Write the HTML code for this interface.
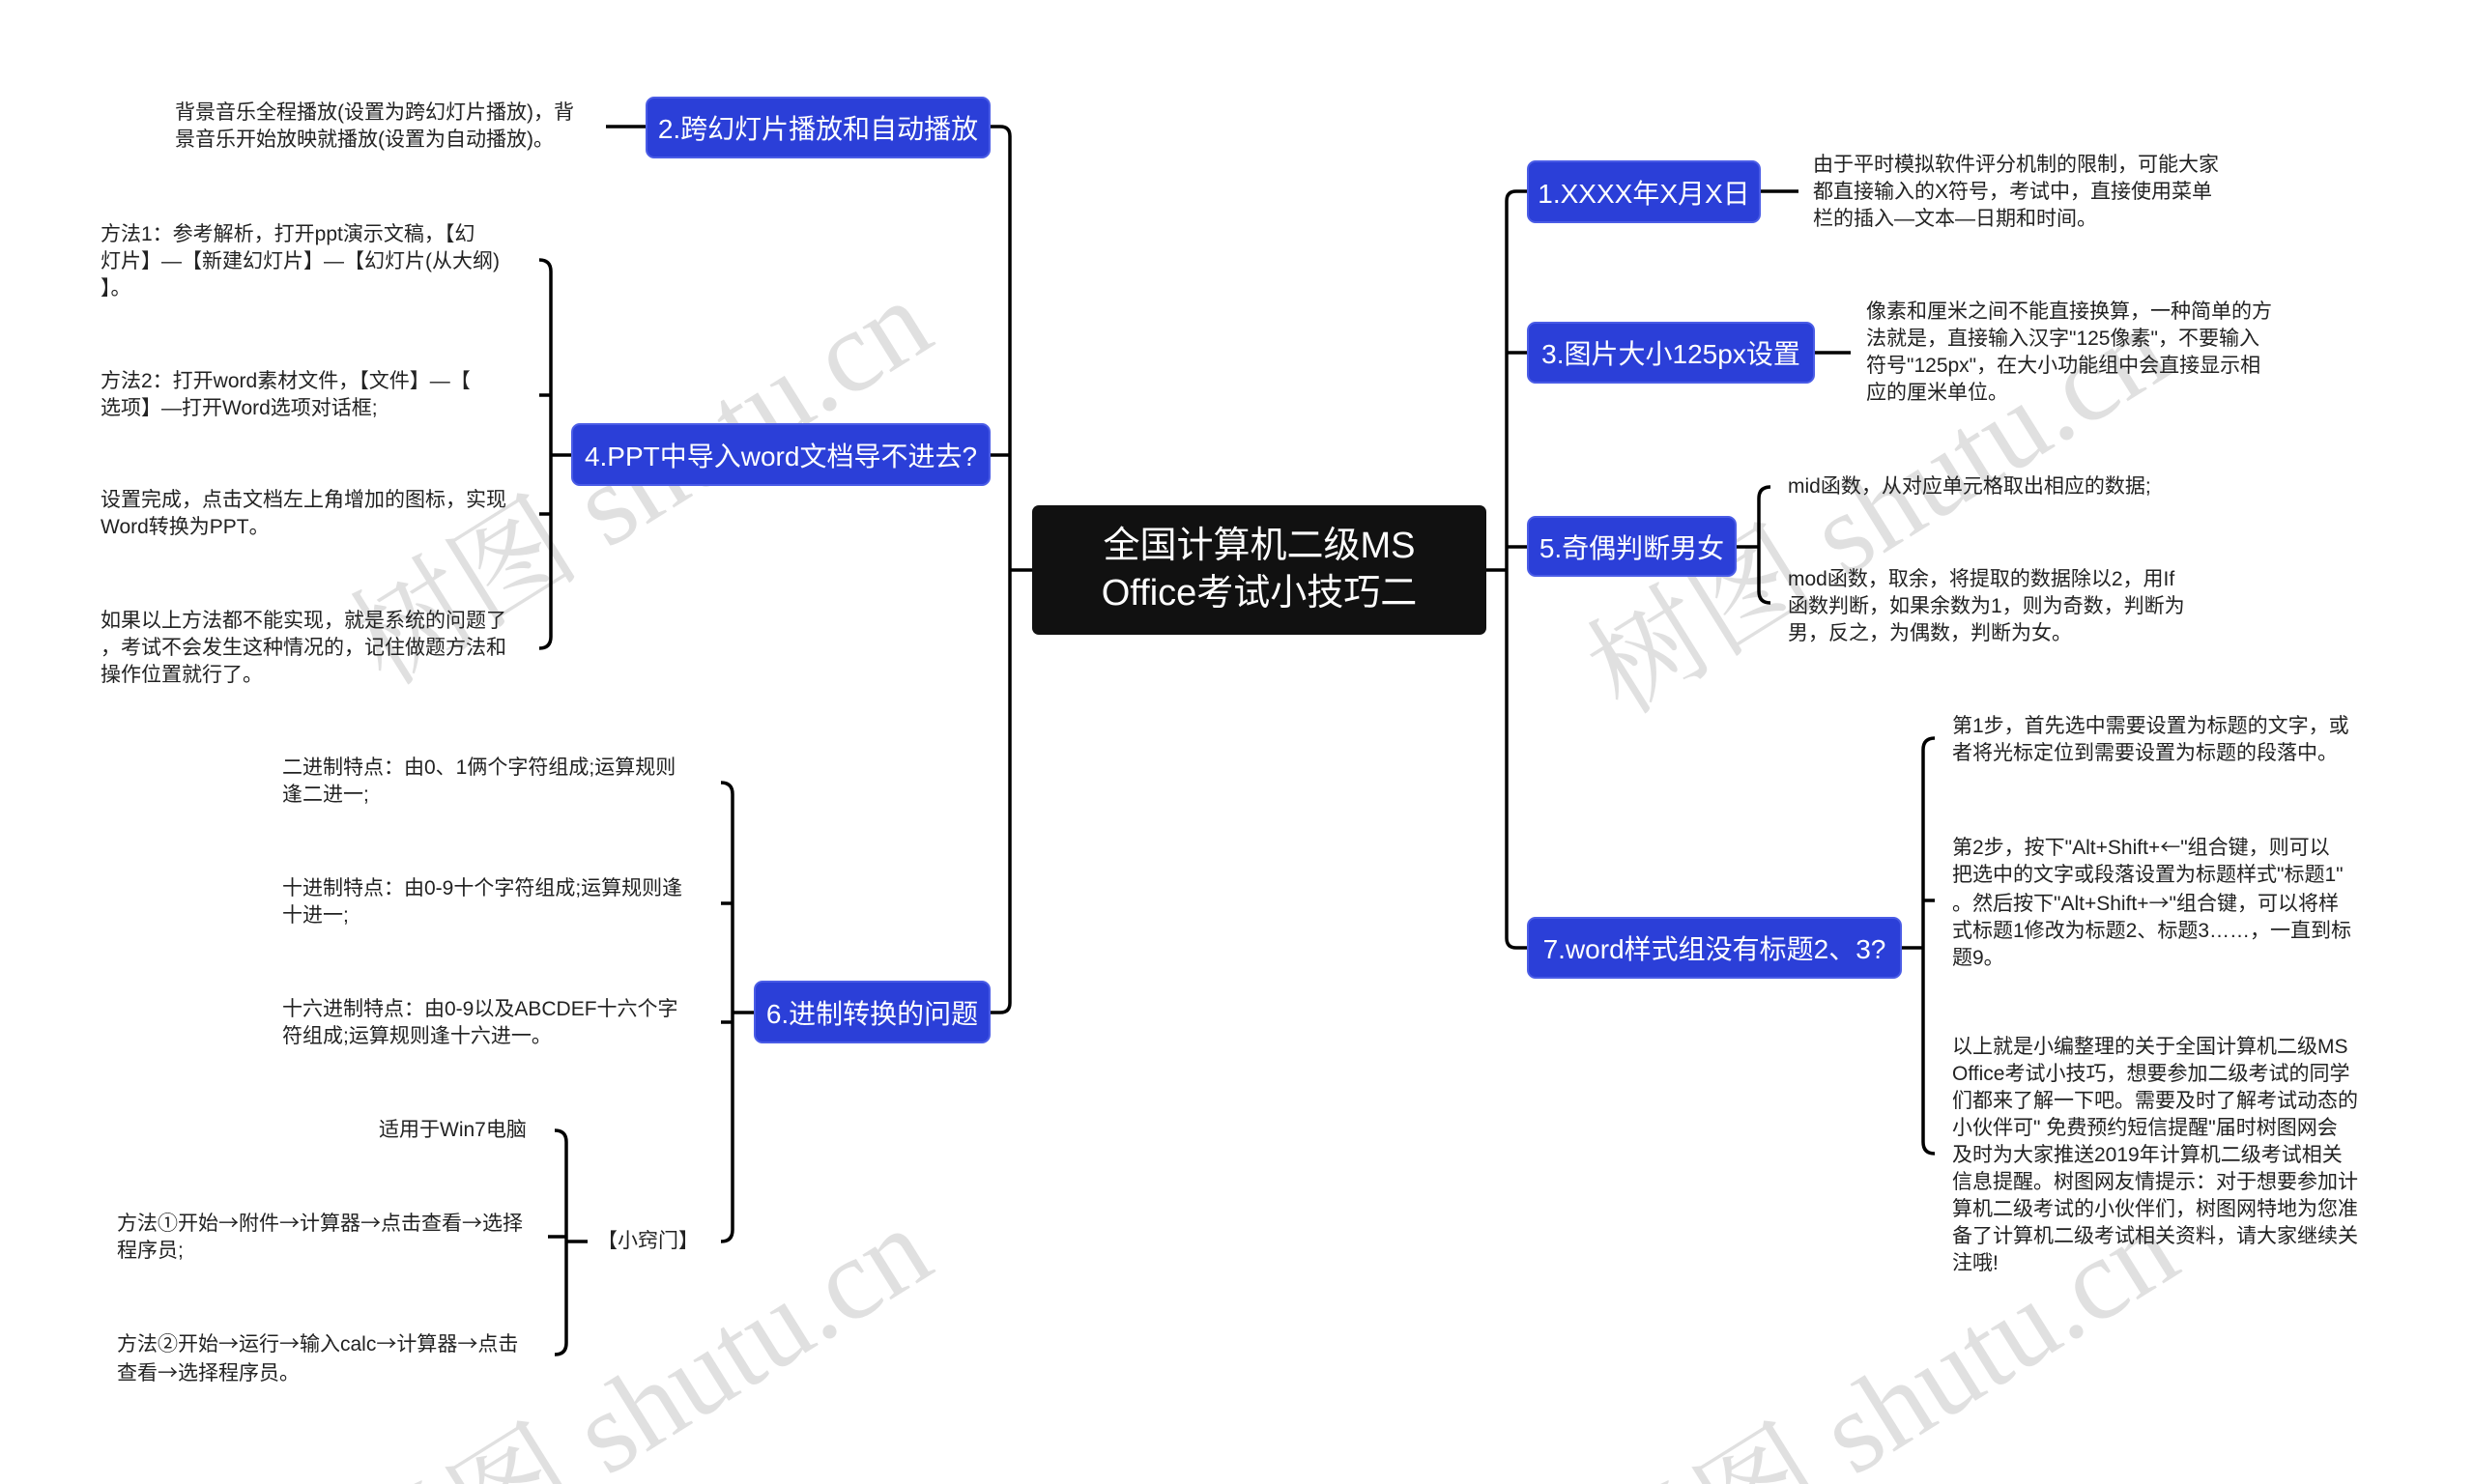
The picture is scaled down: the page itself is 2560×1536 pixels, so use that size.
<!DOCTYPE html>
<html><head><meta charset="utf-8">
<style>
html,body{margin:0;padding:0;background:#fff;width:2560px;height:1536px;overflow:hidden;}
#c{position:relative;width:2560px;height:1536px;overflow:hidden;background:#fff;font-family:"Liberation Sans","Noto Sans CJK SC",sans-serif;}
.b{position:absolute;background:#2b3fd8;border:2px solid #4a5ce6;box-sizing:border-box;border-radius:9px;color:#fff;font-size:28px;display:flex;align-items:center;justify-content:center;white-space:nowrap;}
.t{position:absolute;font-size:21px;line-height:28px;color:#222;white-space:nowrap;}
.a{font-family:"Noto Sans CJK SC",sans-serif;}
</style></head><body><div id="c">
<svg width="2560" height="1536" style="position:absolute;left:0;top:0;overflow:hidden" fill="none" stroke="#000" stroke-width="3.5">
<g stroke="none" fill="rgba(0,0,0,0.12)" font-family="Liberation Serif, Noto Serif CJK SC, serif" font-size="120" text-anchor="middle" dominant-baseline="middle">
<text x="670" y="510" transform="rotate(-32 670 510)">树图 shutu.cn</text>
<text x="1950" y="540" transform="rotate(-32 1950 540)">树图 shutu.cn</text>
<text x="670" y="1470" transform="rotate(-32 670 1470)">树图 shutu.cn</text>
<text x="1960" y="1470" transform="rotate(-32 1960 1470)">树图 shutu.cn</text>
</g>
<path d="M1025 131 H1035 Q1045 131 1045 141 V1038 Q1045 1048 1035 1048 H1025"/>
<path d="M1025 471 H1045 M1068 590 H1045"/>
<path d="M1580 198 H1569 Q1559 198 1559 208 V971 Q1559 981 1569 981 H1580"/>
<path d="M1580 365 H1559 M1580 566 H1559 M1538 590 H1559"/>
<path d="M1822 198 H1861 M1878 365 H1915 M627 131 H668"/>
<path d="M1797 566 H1820 M1832 504 Q1820 504 1820 516 V612 Q1820 624 1832 624"/>
<path d="M1968 981 H1990 M2002 764 Q1990 764 1990 776 V1182 Q1990 1194 2002 1194 M1990 932 H2002"/>
<path d="M591 471 H570 M558 269 Q570 269 570 281 V659 Q570 671 558 671 M570 409 H558 M570 532 H558"/>
<path d="M780 1048 H758 M746 810 Q758 810 758 822 V1273 Q758 1285 746 1285 M758 935 H746 M758 1058 H746"/>
<path d="M608 1285 H586 M574 1170 Q586 1170 586 1182 V1390 Q586 1402 574 1402 M586 1280 H567"/>
</svg>

<div style="position:absolute;left:1068px;top:523px;width:470px;height:134px;background:#111;border-radius:7px;color:#fff;font-size:38px;line-height:49px;display:flex;align-items:center;justify-content:center;text-align:center;">全国计算机二级MS<br>Office考试小技巧二</div>

<div class="b" style="left:668px;top:100px;width:357px;height:64px;">2.跨幻灯片播放和自动播放</div>
<div class="b" style="left:591px;top:438px;width:434px;height:65px;">4.PPT中导入word文档导不进去?</div>
<div class="b" style="left:780px;top:1015px;width:245px;height:65px;">6.进制转换的问题</div>
<div class="b" style="left:1580px;top:166px;width:242px;height:65px;">1.XXXX年X月X日</div>
<div class="b" style="left:1580px;top:333px;width:298px;height:64px;">3.图片大小125px设置</div>
<div class="b" style="left:1580px;top:534px;width:217px;height:63px;">5.奇偶判断男女</div>
<div class="b" style="left:1580px;top:949px;width:388px;height:64px;">7.word样式组没有标题2、3?</div>

<div class="t" style="left:181px;top:103px;">背景音乐全程播放(设置为跨幻灯片播放)，背<br>景音乐开始放映就播放(设置为自动播放)。</div>

<div class="t" style="left:104px;top:229px;">方法1：参考解析，打开ppt演示文稿，【幻<br>灯片】—【新建幻灯片】—【幻灯片(从大纲)<br>】。</div>
<div class="t" style="left:104px;top:381px;">方法2：打开word素材文件，【文件】—【<br>选项】—打开Word选项对话框;</div>
<div class="t" style="left:104px;top:504px;">设置完成，点击文档左上角增加的图标，实现<br>Word转换为PPT。</div>
<div class="t" style="left:104px;top:629px;">如果以上方法都不能实现，就是系统的问题了<br>，考试不会发生这种情况的，记住做题方法和<br>操作位置就行了。</div>

<div class="t" style="left:292px;top:781px;">二进制特点：由0、1俩个字符组成;运算规则<br>逢二进一;</div>
<div class="t" style="left:292px;top:906px;">十进制特点：由0-9十个字符组成;运算规则逢<br>十进一;</div>
<div class="t" style="left:292px;top:1031px;">十六进制特点：由0-9以及ABCDEF十六个字<br>符组成;运算规则逢十六进一。</div>
<div class="t" style="left:618px;top:1271px;">【小窍门】</div>
<div class="t" style="left:392px;top:1156px;">适用于Win7电脑</div>
<div class="t" style="left:121px;top:1251px;">方法①开始<span class="a">→</span>附件<span class="a">→</span>计算器<span class="a">→</span>点击查看<span class="a">→</span>选择<br>程序员;</div>
<div class="t" style="left:121px;top:1376px;">方法②开始<span class="a">→</span>运行<span class="a">→</span>输入calc<span class="a">→</span>计算器<span class="a">→</span>点击<br>查看<span class="a">→</span>选择程序员。</div>

<div class="t" style="left:1876px;top:157px;">由于平时模拟软件评分机制的限制，可能大家<br>都直接输入的X符号，考试中，直接使用菜单<br>栏的插入—文本—日期和时间。</div>
<div class="t" style="left:1931px;top:309px;">像素和厘米之间不能直接换算，一种简单的方<br>法就是，直接输入汉字"125像素"，不要输入<br>符号"125px"，在大小功能组中会直接显示相<br>应的厘米单位。</div>
<div class="t" style="left:1850px;top:490px;">mid函数，从对应单元格取出相应的数据;</div>
<div class="t" style="left:1850px;top:586px;">mod函数，取余，将提取的数据除以2，用If<br>函数判断，如果余数为1，则为奇数，判断为<br>男，反之，为偶数，判断为女。</div>
<div class="t" style="left:2020px;top:738px;">第1步，首先选中需要设置为标题的文字，或<br>者将光标定位到需要设置为标题的段落中。</div>
<div class="t" style="left:2020px;top:862px;">第2步，按下"Alt+Shift+<span class="a">←</span>"组合键，则可以<br>把选中的文字或段落设置为标题样式"标题1"<br>。然后按下"Alt+Shift+<span class="a">→</span>"组合键，可以将样<br>式标题1修改为标题2、标题3……，一直到标<br>题9。</div>
<div class="t" style="left:2020px;top:1070px;">以上就是小编整理的关于全国计算机二级MS<br>Office考试小技巧，想要参加二级考试的同学<br>们都来了解一下吧。需要及时了解考试动态的<br>小伙伴可" 免费预约短信提醒"届时树图网会<br>及时为大家推送2019年计算机二级考试相关<br>信息提醒。树图网友情提示：对于想要参加计<br>算机二级考试的小伙伴们，树图网特地为您准<br>备了计算机二级考试相关资料，请大家继续关<br>注哦!</div>
</div></body></html>
